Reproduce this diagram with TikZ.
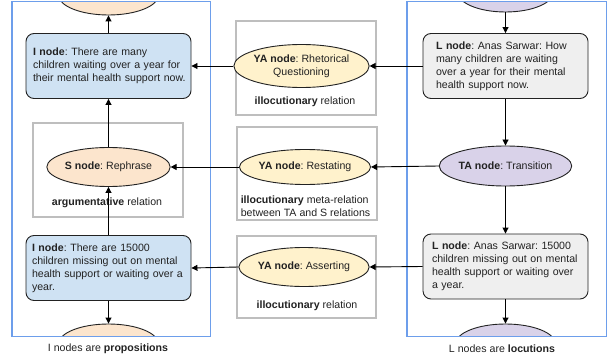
\documentclass[tikz,border=0pt]{standalone}
\usepackage{fontspec}
\setmainfont{Liberation Sans}
\usetikzlibrary{shapes.geometric,arrows.meta}
\frenchspacing
\definecolor{frameblue}{RGB}{109,158,235}
\definecolor{iblue}{RGB}{207,226,243}
\definecolor{sorange}{RGB}{252,229,205}
\definecolor{yayellow}{RGB}{255,242,204}
\definecolor{tapurple}{RGB}{217,210,233}
\definecolor{lgray}{RGB}{239,239,239}
\definecolor{boxgray}{RGB}{190,190,190}
\definecolor{ink}{RGB}{34,34,34}
\newcommand{\oneline}[1]{\mbox{#1}}
\tikzset{
  txt/.style={font=\fontsize{10.6pt}{13pt}\selectfont\frenchspacing, text=ink},
  framebox/.style={draw=frameblue, line width=1pt, minimum width=#1, minimum height=334pt, inner sep=0pt},
  relbox/.style={draw=boxgray, line width=1.2pt, fill=white, inner sep=0pt},
  propbox/.style={txt, rectangle, rounded corners=8pt, draw=ink, line width=0.9pt, minimum width=165pt, minimum height=65pt, align=left, inner xsep=0pt},
  inodebox/.style={propbox, fill=iblue},
  lnodebox/.style={propbox, fill=lgray},
  ell/.style={txt, ellipse, draw=ink, line width=0.9pt, inner sep=0pt, align=center},
  arr/.style={-{Triangle[length=6pt,width=6pt]}, line width=0.9pt, draw=black}
}
\begin{document}
\begin{tikzpicture}[x=1pt,y=-1pt]
\useasboundingbox (0,0) rectangle (609,358);
% frames (named)
\node[framebox=198pt] (frameL) at (111,169) {};
\node[framebox=199pt] (frameR) at (506.5,169) {};
% clipped partial ellipses
\begin{scope}
\clip (12,2) rectangle (210,336);
\node[ell, fill=sorange, minimum width=100pt, minimum height=40pt] (topL) at (108.5,-5) {};
\node[ell, fill=sorange, minimum width=100pt, minimum height=40pt] (botL) at (108.5,344) {};
\end{scope}
\begin{scope}
\clip (407,2) rectangle (606,336);
\node[ell, fill=tapurple, minimum width=96pt, minimum height=40pt] (topR) at (505.5,-8) {};
\node[ell, fill=tapurple, minimum width=100pt, minimum height=40pt] (botR) at (505.5,344) {};
\end{scope}
\draw[frameblue, line width=1pt] (frameL.north west) rectangle (frameL.south east);
\draw[frameblue, line width=1pt] (frameR.north west) rectangle (frameR.south east);
% relation boxes
\node[relbox, minimum width=150pt, minimum height=94pt] (boxS) at (108,170) {};
\node[relbox, minimum width=140pt, minimum height=94pt] (boxYA1) at (306,68) {};
\node[relbox, minimum width=140pt, minimum height=93pt] (boxYA2) at (307,173.5) {};
\node[relbox, minimum width=139pt, minimum height=82pt] (boxYA3) at (306.5,277) {};
% left column
\node[inodebox, text width=151pt] (I1) at (108.5,66) {\oneline{\textbf{I node}: There are many}\\\oneline{children waiting over a year for}\\\oneline{their mental health support now.}};
\node[ell, fill=sorange, minimum width=108pt, minimum height=39pt] (S) at (108.5,167) {\textbf{S node}: Rephrase};
\node[txt] (argrel) at (107,203) {\textbf{argumentative} relation};
\node[inodebox, text width=153pt] (I2) at (108.5,268) {\oneline{\textbf{I node}: There are 15000}\\\oneline{children missing out on mental}\\\oneline{health support or waiting over a}\\\oneline{year.}};
% middle column
\node[ell, fill=yayellow, minimum width=119pt, minimum height=43pt] (YA1) at (301.5,66) {\textbf{YA node}: Rhetorical\\Questioning};
\node[txt] (rel1) at (305,102) {\textbf{illocutionary} relation};
\node[ell, fill=yayellow, minimum width=116pt, minimum height=35pt] (YA2) at (305,167) {\textbf{YA node}: Restating};
\node[txt, align=left] (rel2) at (305.5,206.5) {\textbf{illocutionary} meta-relation\\between TA and S relations};
\node[ell, fill=yayellow, minimum width=106pt, minimum height=39pt] (YA3) at (304,267) {\textbf{YA node}: Asserting};
\node[txt] (rel3) at (307,306) {\textbf{illocutionary} relation};
% right column
\node[lnodebox, text width=139pt] (L1) at (505.5,66) {\oneline{\textbf{L node}: Anas Sarwar: How}\\\oneline{many children are waiting}\\\oneline{over a year for their mental}\\\oneline{health support now.}};
\node[ell, fill=tapurple, minimum width=109pt, minimum height=40pt] (TA) at (505.5,166) {\textbf{TA node}: Transition};
\node[lnodebox, text width=147pt] (L2) at (505.5,266.5) {\oneline{\textbf{L node}: Anas Sarwar: 15000}\\\oneline{children missing out on mental}\\\oneline{health support or waiting over}\\\oneline{a year.}};
% captions
\node[txt] (capL) at (108,349) {I nodes are \textbf{propositions}};
\node[txt] (capR) at (502,349) {L nodes are \textbf{locutions}};
% vertical connectors left
\draw[arr] (I1.north) -- (topL.south);
\draw[arr] (S.north) -- (I1.south);
\draw[arr] (I2.north) -- (S.south);
\draw[arr] (I2.south) -- (botL.north);
% vertical connectors right
\draw[arr] (topR.south) -- (L1.north);
\draw[arr] (L1.south) -- (TA.north);
\draw[arr] (TA.south) -- (L2.north);
\draw[arr] (L2.south) -- (botR.north);
% horizontal connectors
\draw[arr] (L1.west) -- (YA1.east);
\draw[arr] (YA1.west) -- (I1.east);
\draw[arr] (TA.west) -- (YA2.east);
\draw[arr] (YA2.west) -- (S.east);
\draw[arr] (L2.west) -- (YA3.east);
\draw[arr] (YA3.west) -- (I2.east);
\end{tikzpicture}
\end{document}
